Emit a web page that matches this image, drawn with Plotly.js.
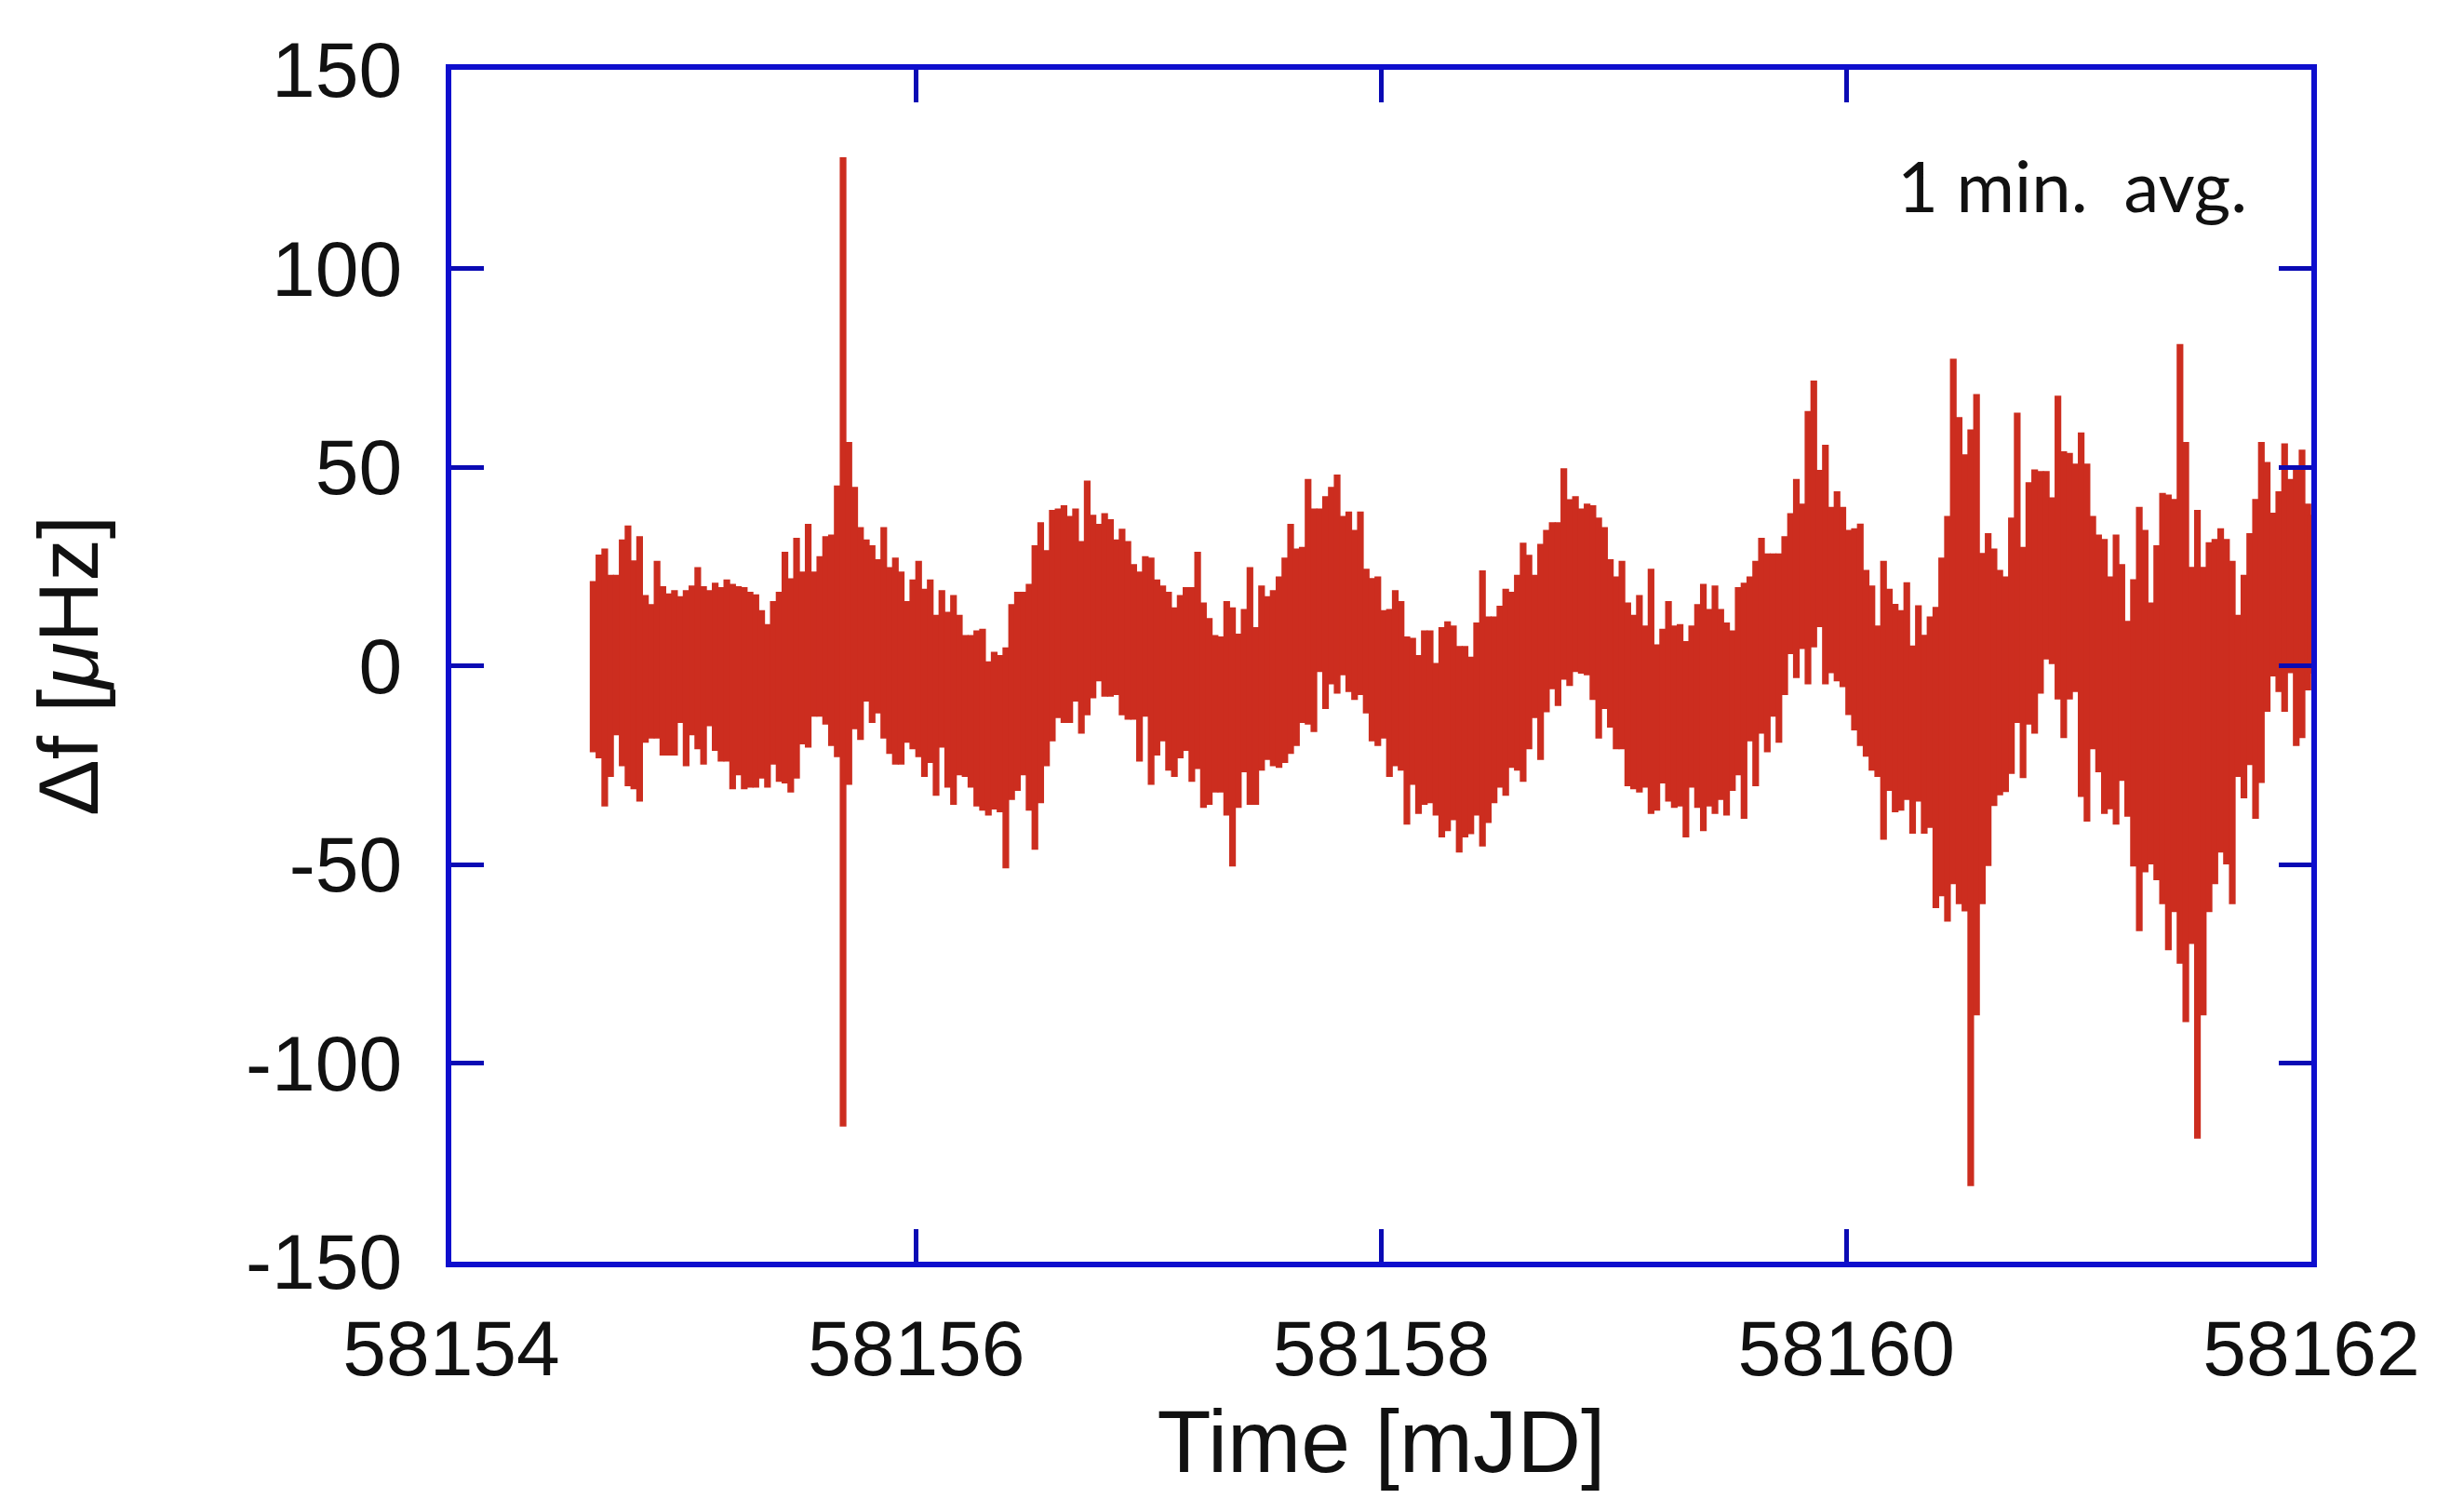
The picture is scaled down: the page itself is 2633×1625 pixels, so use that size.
<!DOCTYPE html>
<html>
<head>
<meta charset="utf-8">
<script src="https://cdn.plot.ly/plotly-3.0.1.min.js"></script>
<style>
    html, body { margin: 0; padding: 0; background: #ffffff; }
</style>
</head>
<body>
<div id="chart"></div>
<script>
let mjdBase = 58154;

// days after mjdBase, one entry per column
let timeOffset = [
    0.61, 0.635, 0.66, 0.685, 0.71, 0.735, 0.76, 0.785, 0.81, 0.835,
    0.86, 0.885, 0.91, 0.935, 0.96, 0.985, 1.01, 1.035, 1.06, 1.085,
    1.11, 1.135, 1.16, 1.185, 1.21, 1.235, 1.26, 1.285, 1.31, 1.335,
    1.36, 1.385, 1.41, 1.435, 1.46, 1.485, 1.51, 1.535, 1.56, 1.585,
    1.61, 1.635, 1.66, 1.685, 1.71, 1.735, 1.76, 1.785, 1.81, 1.835,
    1.86, 1.885, 1.91, 1.935, 1.96, 1.985, 2.01, 2.035, 2.06, 2.085,
    2.11, 2.135, 2.16, 2.185, 2.21, 2.235, 2.26, 2.285, 2.31, 2.335,
    2.36, 2.385, 2.41, 2.435, 2.46, 2.485, 2.51, 2.535, 2.56, 2.585,
    2.61, 2.635, 2.66, 2.685, 2.71, 2.735, 2.76, 2.785, 2.81, 2.835,
    2.86, 2.885, 2.91, 2.935, 2.96, 2.985, 3.01, 3.035, 3.06, 3.085,
    3.11, 3.135, 3.16, 3.185, 3.21, 3.235, 3.26, 3.285, 3.31, 3.335,
    3.36, 3.385, 3.41, 3.435, 3.46, 3.485, 3.51, 3.535, 3.56, 3.585,
    3.61, 3.635, 3.66, 3.685, 3.71, 3.735, 3.76, 3.785, 3.81, 3.835,
    3.86, 3.885, 3.91, 3.935, 3.96, 3.985, 4.01, 4.035, 4.06, 4.085,
    4.11, 4.135, 4.16, 4.185, 4.21, 4.235, 4.26, 4.285, 4.31, 4.335,
    4.36, 4.385, 4.41, 4.435, 4.46, 4.485, 4.51, 4.535, 4.56, 4.585,
    4.61, 4.635, 4.66, 4.685, 4.71, 4.735, 4.76, 4.785, 4.81, 4.835,
    4.86, 4.885, 4.91, 4.935, 4.96, 4.985, 5.01, 5.035, 5.06, 5.085,
    5.11, 5.135, 5.16, 5.185, 5.21, 5.235, 5.26, 5.285, 5.31, 5.335,
    5.36, 5.385, 5.41, 5.435, 5.46, 5.485, 5.51, 5.535, 5.56, 5.585,
    5.61, 5.635, 5.66, 5.685, 5.71, 5.735, 5.76, 5.785, 5.81, 5.835,
    5.86, 5.885, 5.91, 5.935, 5.96, 5.985, 6.01, 6.035, 6.06, 6.085,
    6.11, 6.135, 6.16, 6.185, 6.21, 6.235, 6.26, 6.285, 6.31, 6.335,
    6.36, 6.385, 6.41, 6.435, 6.46, 6.485, 6.51, 6.535, 6.56, 6.585,
    6.61, 6.635, 6.66, 6.685, 6.71, 6.735, 6.76, 6.785, 6.81, 6.835,
    6.86, 6.885, 6.91, 6.935, 6.96, 6.985, 7.01, 7.035, 7.06, 7.085,
    7.11, 7.135, 7.16, 7.185, 7.21, 7.235, 7.26, 7.285, 7.31, 7.335,
    7.36, 7.385, 7.41, 7.435, 7.46, 7.485, 7.51, 7.535, 7.56, 7.585,
    7.61, 7.635, 7.66, 7.685, 7.71, 7.735, 7.76, 7.785, 7.81, 7.835,
    7.86, 7.885, 7.91, 7.935, 7.96, 7.985, 7.995
];

// top of each column, uHz
let upperEdge = [
    21.3, 28, 29.5, 22.9, 22.9, 31.8, 35.3, 26.5, 32.6, 17.8, 15.5, 26.4, 20, 18.2,
    19, 17.5, 19, 20.2, 24.8, 20, 19, 20.9, 19.8, 21.7, 20.6, 20, 19.8, 18.6,
    18, 14, 10.5, 16.3, 18.6, 28.7, 22, 32.2, 23.7, 35.7, 23.7, 27.6, 32.6, 33,
    45.4, 128, 56.3, 45, 34.9, 31.8, 30.3, 26.8, 34.9, 24.8, 27.2, 23.7, 16.3, 21.7,
    26.4, 19.4, 21.7, 12.8, 19, 13.6, 17.8, 12.8, 7.7, 7.7, 8.9, 9.3, 1.1, 3.5,
    2.7, 4.6, 15.5, 18.6, 18.6, 20.6, 30.3, 36.1, 29.1, 39.2, 39.6, 40.4, 37.7, 39.6, 31.4,
    46.6, 38, 35.7, 38.4, 36.9, 31.8, 34.5, 31.4, 25.6, 23.7, 27.6, 27.2, 21.7, 20.2,
    18.6, 14.7, 17.8, 19.8, 19.8, 28.7, 15.9, 12, 7.7, 7.4, 16.3, 14.7, 8.1, 14.3,
    24.8, 9.7, 20.2, 17.5, 19, 22.5, 27.2, 35.7, 29.5, 29.9, 47, 39.6, 39.6, 42.7,
    45, 48.1, 37.7, 38.8, 34.2, 38.8, 24.4, 22.1, 22.5, 14, 14.3, 19, 16.3, 7.4,
    7, 2.7, 8.9, 8.9, 0.7, 9.7, 11.2, 10.1, 5, 5, 2.3, 10.9, 24, 12.4,
    12.4, 15.1, 19.4, 18.6, 22.9, 31, 27.9, 22.9, 30.7, 34.2, 36.1, 36.1, 49.7, 41.9,
    42.7, 39.6, 40.8, 40.4, 37.3, 34.9, 26.8, 22.5, 26.4, 15.9, 12.8, 17.8, 10.1, 24.4,
    5.4, 9.3, 16.3, 10.1, 10.5, 6.2, 10.1, 15.5, 20.6, 14.3, 20.2, 14.3, 10.9, 8.9,
    19.8, 20.9, 22.5, 26.4, 32.2, 28.3, 28.3, 28.3, 32.6, 38.4, 47, 40.8, 64.1, 71.8, 49.3,
    55.6, 40, 43.9, 40, 34.2, 34.6, 35.8, 24.1, 20.2, 10.1, 26.4, 19.4, 15.6, 14,
    21, 5.1, 15.2, 7.8, 12.4, 14.8, 27.2, 37.7, 77.3, 62.6, 53.2, 59.5, 68.4, 28.4,
    33.4, 29.5, 24.1, 22.5, 37.3, 63.7, 29.9, 46.2, 49.4, 49, 49, 42.4, 68, 54,
    53.6, 50.9, 58.7, 50.9, 37.7, 33, 31.9, 22.5, 33, 25.6, 11.3, 21.8, 40, 34.2,
    15.9, 30.3, 43.5, 43.1, 42, 81, 56.3, 24.9, 39.2, 24.9, 31.1, 31.9, 34.6, 31.9,
    26.4, 12.8, 22.9, 33.4, 42, 56.3, 51.3, 38.5, 43.9, 56, 47, 50.1, 54.4, 40.8, 38
];

// bottom of each column, uHz
let lowerEdge = [
    -21.8, -23.3, -35.4, -28, -17.5, -25.3, -30.3, -31.1, -34.2, -19.4, -18.3, -18.3, -22.6, -22.6,
    -22.6, -14.4, -25.3, -17.5, -21, -24.9, -15.2, -21.4, -24.1, -24.1, -31.1, -27.6, -31.1, -30.7,
    -30.7, -28.4, -30.7, -24.9, -29.2, -29.6, -31.9, -28.4, -19.8, -20.6, -12.8, -12.8, -14.8, -20.2,
    -23, -116, -30, -16, -18.7, -9, -14.4, -12, -18.3, -22.2, -24.9, -24.9, -19.4, -21,
    -23, -28, -24.5, -32.7, -20.6, -30.7, -35, -27.6, -28, -30.7, -35.4, -36.5, -37.7, -36.2,
    -36.9, -51, -33.8, -31.5, -27.6, -36.5, -46.3, -34.6, -25.3, -19, -13.2, -14.4, -14.4, -9, -17.1,
    -12.5, -8.2, -3.9, -7.8, -7.8, -7.4, -12.5, -13.6, -13.6, -24.1, -12.8, -30, -22.6, -19,
    -26.4, -28, -23.3, -21.4, -29.2, -26, -35.8, -35, -31.9, -31.9, -37.7, -50.5, -35.8, -26.8,
    -35, -35, -26.4, -23.7, -25.3, -25.7, -24.5, -22.2, -20.2, -14.4, -14.8, -16.7, -1.6, -10.9,
    -4.7, -7, -2.4, -6.6, -8.6, -7.4, -12, -19, -20.2, -18.3, -28, -25.3, -26.4, -40,
    -30, -37.3, -35, -34.6, -37.7, -43.2, -41.6, -38.9, -47, -43.2, -42.4, -37.7, -45.5, -39.6,
    -34.6, -30.7, -32.7, -25.7, -26.4, -29.2, -21, -13.2, -23.7, -11.7, -5.9, -10.1, -3.5, -5.1,
    -1.6, -2, -2.4, -8.6, -18.3, -10.9, -15.6, -21, -21, -30.3, -31.1, -31.9, -30.7, -37.3,
    -36.5, -29.6, -34.2, -35.8, -35.4, -43.2, -30.7, -35.8, -41.6, -35.4, -37.3, -33.8, -37.7, -31.5,
    -27.6, -38.5, -19, -30.3, -17.1, -21.8, -12.8, -19.4, -7.4, 2.9, -3.1, 4.2, -4.7, 4.6, 9.7,
    -4.7, -1.9, -3.9, -5.4, -12.4, -16.3, -20.2, -22.9, -26.4, -28, -43.8, -31.5, -36.9, -36.5,
    -33.8, -42.3, -34.2, -42.3, -40.8, -61, -58, -64.4, -55, -60, -61.8, -131, -88, -60,
    -50.4, -35.3, -32.6, -31.8, -27.2, -14.4, -28.3, -14.8, -17.1, -7, 1.6, 0.4, -8.5, -18.2,
    -8.5, -6.6, -33, -39.2, -21, -26.8, -37.3, -36.1, -40, -29, -38, -50.5, -66.8, -52,
    -50, -54, -60, -71.6, -62, -75, -89.7, -70, -119, -88, -62, -55, -47, -50,
    -60, -28, -33.4, -25, -38.5, -29.5, -11.6, -2.7, -6.6, -11.6, -1.9, -20.2, -18.2, -6.2, -2
];

let xTicks = [58154, 58156, 58158, 58160, 58162];
let yTicks = [-150, -100, -50, 0, 50, 100, 150];
let yTickLabels = ['-150', '-100', '-50', '0', '50', '100', '150'];

let axisBlue = 'rgb(14, 14, 205)';
let tickBlue = 'rgb(10, 10, 180)';
let traceRed = 'rgb(204, 45, 31)';
let textFont = 'Liberation Sans, Arial, sans-serif';

// each column is a vertical stroke, split by null so they stay separate
let xLine = [];
let yLine = [];
for (let i = 0; i < timeOffset.length; i++) {
    let t = mjdBase + timeOffset[i];
    xLine.push(t, t, null);
    yLine.push(upperEdge[i], lowerEdge[i], null);
}

var data = [{
    x: xLine,
    y: yLine,
    type: 'scatter',
    mode: 'lines',
    connectgaps: false,
    hoverinfo: 'skip',
    line: {
        color: traceRed,
        width: 7.2,
        simplify: false
    }
}];

var layout = {
    width: 2633,
    height: 1625,
    autosize: false,
    showlegend: false,
    paper_bgcolor: '#ffffff',
    plot_bgcolor: '#ffffff',
    font: {
        family: textFont,
        size: 84,
        color: '#111111'
    },
    margin: {
        l: 485,
        r: 149,
        t: 75,
        b: 269,
        pad: 0
    },
    xaxis: {
        range: [58154, 58162],
        tickmode: 'array',
        tickvals: xTicks,
        ticktext: xTicks.map(String),
        ticks: 'inside',
        ticklen: 35,
        tickwidth: 5,
        tickcolor: tickBlue,
        ticklabelstandoff: 15,
        showgrid: false,
        zeroline: false,
        showline: true,
        linecolor: axisBlue,
        linewidth: 6,
        mirror: 'ticks',
        title: {
            text: 'Time [mJD]',
            standoff: 12,
            font: { family: textFont, size: 95, color: '#111111' }
        }
    },
    yaxis: {
        range: [-150, 150],
        tickmode: 'array',
        tickvals: yTicks,
        ticktext: yTickLabels,
        ticks: 'inside',
        ticklen: 35,
        tickwidth: 5,
        tickcolor: tickBlue,
        ticklabelstandoff: 30,
        showgrid: false,
        zeroline: false,
        showline: true,
        linecolor: axisBlue,
        linewidth: 6,
        mirror: 'ticks',
        title: {
            text: '\u00a0\u00a0Δf [<i>μ</i>Hz]',
            standoff: 130,
            font: { family: textFont, size: 91, color: '#111111' }
        }
    },
    annotations: [{
        x: 58160.97,
        y: 121,
        xref: 'x',
        yref: 'y',
        text: '1 min.  avg.',
        showarrow: false,
        font: { family: 'Lato, sans-serif', size: 76, color: '#111111' }
    }]
};

Plotly.newPlot('chart', data, layout, { displayModeBar: false, staticPlot: true });
</script>
</body>
</html>
